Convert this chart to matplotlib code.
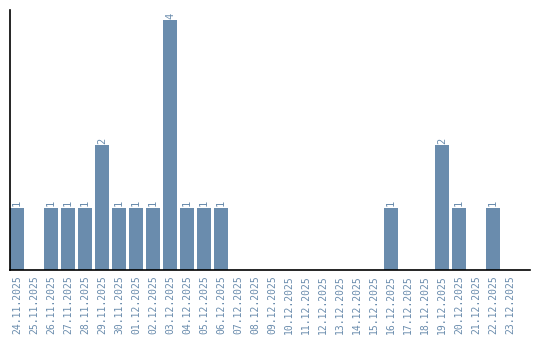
import matplotlib
matplotlib.use("Agg")
import matplotlib.pyplot as plt
import pandas as pd

# 数据
dates = pd.date_range("2025-11-24", "2025-12-23", freq="D").strftime("%d.%m.%Y").tolist()
counts = [1, 0, 1, 1, 1, 2, 1, 1, 1, 4, 1, 1, 1, 0, 0, 0, 0, 0, 0, 0, 0, 0,
          1, 0, 0, 2, 1, 0, 1, 0]

bar_color = "#6a8cad"
text_color = "#6a8cad"

fig = plt.figure(figsize=(5.4, 3.4), dpi=100)
ax = fig.add_axes([10 / 540, 70 / 340, 520 / 540, 260 / 340])

x = list(range(len(dates)))
ax.bar(x, counts, width=14 / 17, color=bar_color)

# 数值标签
for xi, c in zip(x, counts):
    if c > 0:
        ax.text(xi, c + 0.02, str(c), rotation=90, ha="center", va="bottom",
                fontsize=7.5, family="DejaVu Sans Mono", color=text_color)

ax.set_xlim(-7 / 17, -7 / 17 + 520 / 17)
ax.set_ylim(0, 260 / 62.5)
ax.set_xticks(x)
ax.set_xticklabels(dates, rotation=90, fontsize=7, family="DejaVu Sans Mono", color=text_color)
ax.tick_params(axis="x", length=0, pad=4)
ax.set_yticks([])

for s in ["top", "right"]:
    ax.spines[s].set_visible(False)
ax.spines["left"].set_linewidth(1.2)
ax.spines["bottom"].set_linewidth(1.2)

plt.savefig("out.png", dpi=100)
